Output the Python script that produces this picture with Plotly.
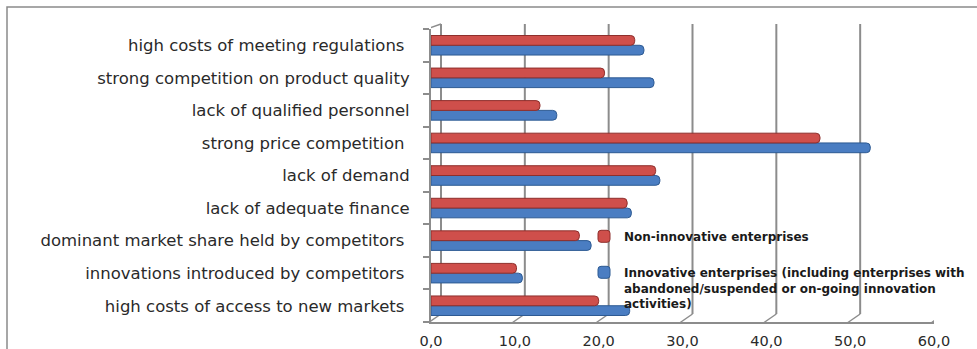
import plotly.graph_objects as go

# Obstacles to innovation, share of enterprises (%)
categories = [
    "high costs of access to new markets\u00a0",
    "innovations introduced by competitors\u00a0",
    "dominant market share held by competitors\u00a0",
    "lack of adequate finance",
    "lack of demand",
    "strong price competition\u00a0",
    "lack of qualified personnel",
    "strong competition on product quality",
    "high costs of meeting regulations\u00a0",
]
non_innovative = [20.0, 10.2, 17.7, 23.4, 26.8, 46.4, 13.0, 20.7, 24.3]
innovative = [23.7, 10.9, 19.1, 23.9, 27.3, 52.4, 15.0, 26.6, 25.4]
x_ticks = [0, 10, 20, 30, 40, 50, 60]

name_non = "Non-innovative enterprises"
name_inn = ("Innovative enterprises (including enterprises with<br>"
            "abandoned/suspended or on-going innovation<br>activities)")

LABEL_FONT = "DejaVu Sans"
GRID = "#8c8c8c"

fig = go.Figure()
fig.add_trace(go.Bar(
    y=categories, x=innovative, orientation="h", name=name_inn,
    legendgroup="inn", legendrank=2,
    marker=dict(color="#4a7dc2", line=dict(color="#2d5a92", width=1)),
))
fig.add_trace(go.Bar(
    y=categories, x=non_innovative, orientation="h", name=name_non,
    legendgroup="non", legendrank=1,
    marker=dict(color="#cf4f4b", line=dict(color="#8e2f2c", width=1)),
))

# pseudo-3D frame: back-wall gridlines, floor diagonals, wall edges
DX, DY = 10, 8
shapes = []
for t in x_ticks:
    shapes.append(dict(type="line", xref="x", yref="paper",
                       xsizemode="pixel", xanchor=t, x0=DX, x1=DX,
                       ysizemode="pixel", yanchor=0, y0=DY, y1=298,
                       line=dict(color=GRID, width=2), layer="below"))
    shapes.append(dict(type="line", xref="x", yref="paper",
                       xsizemode="pixel", xanchor=t, x0=-3, x1=DX,
                       ysizemode="pixel", yanchor=0, y0=-1, y1=DY,
                       line=dict(color=GRID, width=1.5), layer="below"))
# left wall top edge
shapes.append(dict(type="line", xref="x", yref="paper",
                   xsizemode="pixel", xanchor=0, x0=-4, x1=DX,
                   ysizemode="pixel", yanchor=1, y0=0, y1=5,
                   line=dict(color=GRID, width=1.5), layer="below"))
# outer chart border
shapes.append(dict(type="rect", xref="paper", yref="paper",
                   x0=(7 - 431) / 503, x1=(990 - 431) / 503,
                   y0=(322 - 360) / 293, y1=1 + 22 / 293,
                   line=dict(color="#8a8a8a", width=1.5),
                   fillcolor="rgba(0,0,0,0)", layer="below"))

fig.update_layout(
    width=977, height=349,
    margin=dict(l=431, r=43, t=29, b=27, autoexpand=False),
    paper_bgcolor="white", plot_bgcolor="rgba(0,0,0,0)",
    barmode="group", bargap=0.4, bargroupgap=0,
    barcornerradius=4,
    separators=",.",
    font=dict(family=LABEL_FONT, color="#2a2a2a"),
    showlegend=True,
    legend=dict(x=(584 - 431) / 503, y=(322 - 222) / 293,
                xanchor="left", yanchor="top",
                traceorder="grouped", tracegroupgap=17,
                valign="top",
                bgcolor="rgba(0,0,0,0)",
                font=dict(family=LABEL_FONT, size=12, color="#1a1a1a",
                          weight="bold")),
    shapes=shapes,
)
fig.update_xaxes(
    range=[0, 60], tickvals=x_ticks, tickformat=".1f",
    showgrid=False, zeroline=False, automargin=False,
    showline=True, linecolor=GRID, linewidth=2,
    ticks="", ticklabelstandoff=5,
    tickfont=dict(family=LABEL_FONT, size=14.5, color="#2a2a2a"),
    fixedrange=True,
)
fig.update_yaxes(
    type="category", categoryorder="array", categoryarray=categories,
    showgrid=False, zeroline=False, automargin=False,
    showline=True, linecolor=GRID, linewidth=2,
    ticks="outside", tickson="boundaries", ticklen=6, tickcolor=GRID,
    tickwidth=1.5, ticklabelstandoff=16,
    tickfont=dict(family=LABEL_FONT, size=16.5, color="#2a2a2a"),
    fixedrange=True,
)

fig.write_html("out.html")
